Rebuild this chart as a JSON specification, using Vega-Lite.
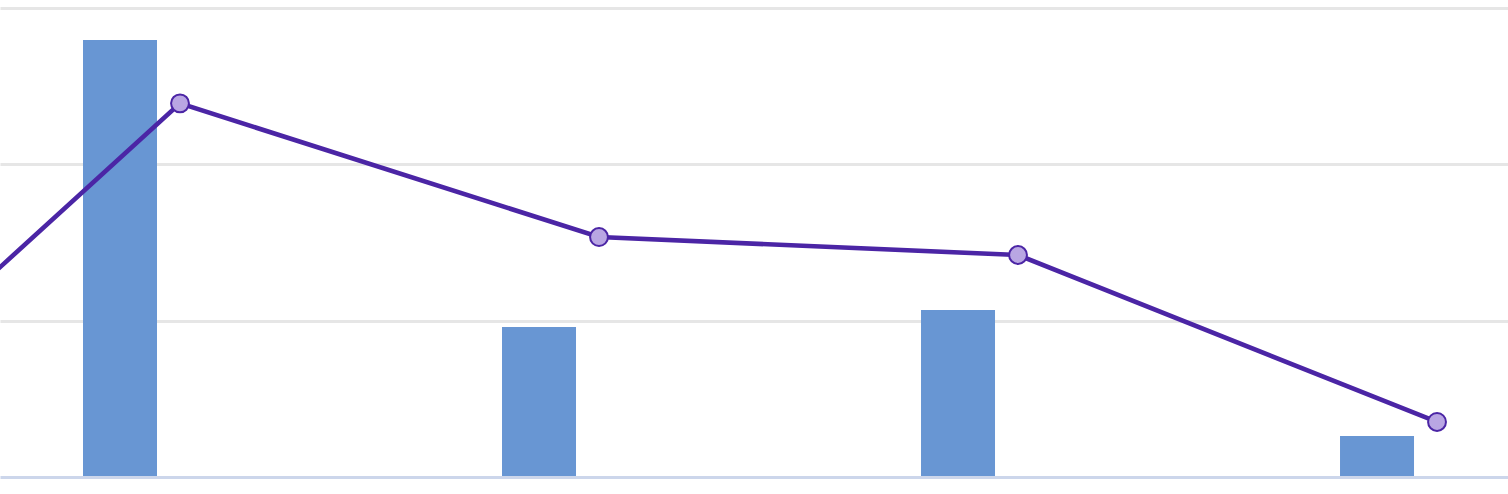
{
  "$schema": "https://vega.github.io/schema/vega-lite/v6.json",
  "width": 1508,
  "height": 494,
  "autosize": {"type": "fit", "contains": "padding"},
  "padding": {"top": 8, "bottom": 17, "left": 0, "right": 0},
  "background": "white",
  "config": {"view": {"stroke": null}},
  "data": {
    "values": [
      {"i": -1, "line": -0.05},
      {"i": 0, "bar": 2.795, "line": 2.39},
      {"i": 1, "bar": 0.96, "line": 1.535},
      {"i": 2, "bar": 1.068, "line": 1.42},
      {"i": 3, "bar": 0.262, "line": 0.352}
    ]
  },
  "layer": [
    {
      "transform": [{"filter": "isValid(datum.bar)"}],
      "mark": {"type": "bar", "size": 74, "color": "#6896d3"},
      "encoding": {
        "x": {
          "field": "i",
          "type": "quantitative",
          "scale": {"domain": [-0.2864, 3.3126], "nice": false, "zero": false, "padding": 0},
          "axis": {"domain": true, "domainColor": "#ccd6eb", "domainWidth": 3, "ticks": false, "labels": false, "grid": false, "title": null, "minExtent": 0, "maxExtent": 0, "zindex": 1}
        },
        "y": {
          "field": "bar",
          "type": "quantitative",
          "scale": {"domain": [0, 3], "nice": false, "zero": true},
          "axis": {"values": [1, 2, 3], "grid": true, "gridColor": "#e6e6e6", "gridWidth": 3, "gridOpacity": 1, "domain": false, "ticks": false, "labels": false, "title": null, "minExtent": 0, "maxExtent": 0}
        }
      }
    },
    {
      "encoding": {
        "x": {
          "field": "i",
          "type": "quantitative",
          "scale": {"domain": [-0.4296, 3.1694], "nice": false, "zero": false, "padding": 0},
          "axis": null
        },
        "y": {
          "field": "line",
          "type": "quantitative",
          "axis": {"values": [1, 2, 3], "grid": true, "gridColor": "#e6e6e6", "gridWidth": 3, "gridOpacity": 1, "domain": false, "ticks": false, "labels": false, "title": null, "minExtent": 0, "maxExtent": 0}
        }
      },
      "layer": [
        {"mark": {"type": "line", "color": "#4b25a5", "strokeWidth": 4.6, "clip": true}},
        {
          "transform": [{"filter": "datum.i >= 0"}],
          "mark": {"type": "point", "filled": true, "fill": "#b9a6e3", "stroke": "#4b25a5", "strokeWidth": 2, "size": 320, "opacity": 1, "shape": "circle"}
        }
      ]
    }
  ],
  "resolve": {"scale": {"x": "independent"}}
}
